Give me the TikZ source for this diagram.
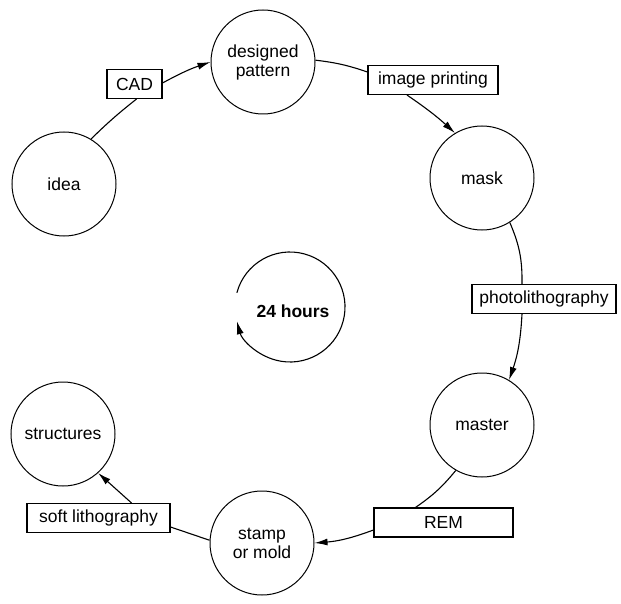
\documentclass[tikz,border=0pt]{standalone}
\usepackage{fontspec}
\setmainfont{Liberation Sans}
\usetikzlibrary{arrows.meta,positioning}

\begin{document}
\begin{tikzpicture}[
        x=1pt,
        y=1pt,
        >=Latex,
        stage/.style={
            draw,
            circle,
            line width=1pt,
            minimum size=104pt,
            inner sep=0pt,
            align=center,
            font=\fontsize{17.5}{19}\selectfont
        },
        proc/.style={
            draw,
            rectangle,
            line width=1.1pt,
            minimum height=29pt,
            inner xsep=4pt,
            font=\fontsize{17.5}{19}\selectfont
        },
        link/.style={line width=1.1pt},
        flow/.style={-{Latex[length=13pt,width=7pt]}, line width=1.1pt}
    ]
        \useasboundingbox (0,0) rectangle (621,-604);

        % Stages round the cycle, clockwise from the idea.
        \node[stage] (idea) at (64,-184) {idea};
        \node[stage] (designed) at (263,-62) {designed\\pattern};
        \node[stage] (mask) at (482,-178) {mask};
        \node[stage] (master) at (482,-425) {master};
        \node[stage] (stamp) at (262,-543) {stamp\\or mold};
        \node[stage] (structures) at (63,-434) {structures};

        \node[proc, minimum width=55pt] (cad) at (134.5,-84) {CAD};
        \node[proc, minimum width=130pt] (printing) at (433,-80) {image printing};
        \node[proc, minimum width=144pt] (photo) at (544,-299) {photolithography};
        \node[proc, minimum width=139pt] (rem) at (443.5,-522.5) {REM};
        \node[proc, minimum width=143pt] (soft) at (98.5,-518) {soft lithography};

        \draw[link] (idea.59) to[bend left=3] ([xshift=2pt]cad.south);
        \draw[flow] ([yshift=1pt]cad.east) to[bend left=5] (designed.180);
        \draw[link] (designed.2) to[bend left=6] ([yshift=8pt]printing.west);
        \draw[flow] ([xshift=-26pt]printing.south) to[bend left=4] (mask.121);
        \draw[link] (mask.-58) to[bend left=12] ([xshift=-22pt]photo.north);
        \draw[flow] ([xshift=-22pt]photo.south) to[bend left=8] (master.59);
        \draw[link] (master.240) to[bend left=8] ([xshift=-28pt]rem.north);
        \draw[flow] ([yshift=-7.5pt]rem.west) to[bend left=8] (stamp.0);
        \draw[link] (stamp.177) -- ([yshift=-9pt]soft.east);
        \draw[flow] ([xshift=33pt]soft.north) -- (structures.-48);

        % The day-long turn in the middle.
        \node[font=\fontsize{17.5}{19}\selectfont\bfseries] (hours) at (293,-311) {24 hours};
        \coordinate (turn) at (290,-307);
        \draw[flow] (turn) ++(165:55) arc[start angle=165, end angle=-165, radius=55];

    \end{tikzpicture}
\end{document}
